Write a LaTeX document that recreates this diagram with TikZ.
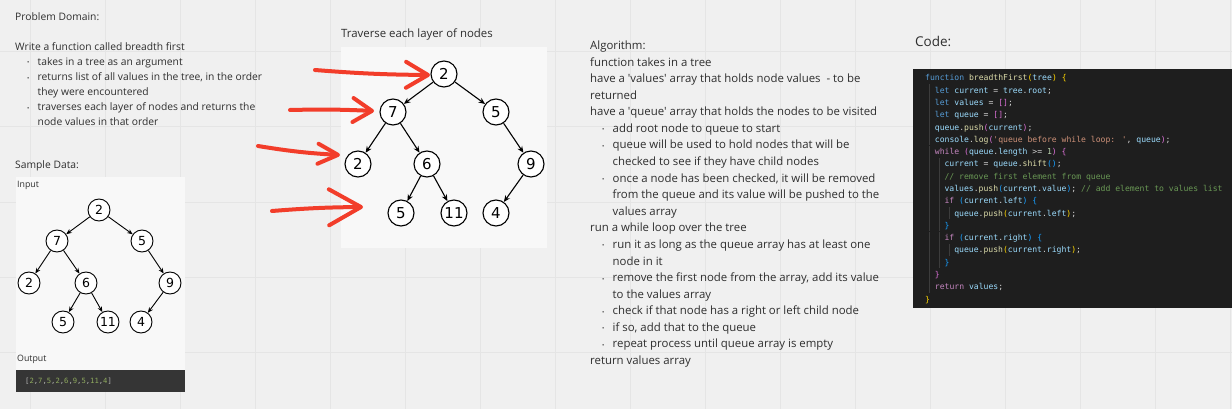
\documentclass[tikz,border=0pt]{standalone}
\usepackage{fontspec}
\setmainfont{Open Sans}
\newfontfamily\arbrefont{DejaVu Sans}
\newfontfamily\codefont{DejaVu Sans Mono}
\usepackage{tikz}
\usetikzlibrary{arrows.meta,positioning}
\definecolor{fondTableau}{HTML}{F0F0F0}
\definecolor{grilleTableau}{HTML}{E5E5E5}
\definecolor{texteGris}{HTML}{2E2E2E}
\definecolor{fondImage}{HTML}{F8F8F8}
\definecolor{rougeMain}{HTML}{F23D2A}
\definecolor{vsFond}{HTML}{1E1E1E}
\definecolor{vsGuide}{HTML}{3C3C3C}
\definecolor{vsTexte}{HTML}{D4D4D4}
\definecolor{vsBleu}{HTML}{569CD6}
\definecolor{vsJaune}{HTML}{DCDCAA}
\definecolor{vsVar}{HTML}{9CDCFE}
\definecolor{vsOr}{HTML}{FFD700}
\definecolor{vsMauve}{HTML}{DA70D6}
\definecolor{vsAzur}{HTML}{179FFF}
\definecolor{vsRose}{HTML}{C586C0}
\definecolor{vsChaine}{HTML}{CE9178}
\definecolor{vsNombre}{HTML}{B5CEA8}
\definecolor{vsCom}{HTML}{6A9955}
\definecolor{sortieNb}{HTML}{8FAA5E}

\newcommand\cmot[1]{\textcolor{vsBleu}{#1}}
\newcommand\cfon[1]{\textcolor{vsJaune}{#1}}
\newcommand\cvar[1]{\textcolor{vsVar}{#1}}
\newcommand\cor[1]{\textcolor{vsOr}{#1}}
\newcommand\cmau[1]{\textcolor{vsMauve}{#1}}
\newcommand\caz[1]{\textcolor{vsAzur}{#1}}
\newcommand\cctl[1]{\textcolor{vsRose}{#1}}
\newcommand\cstr[1]{\textcolor{vsChaine}{#1}}
\newcommand\cnum[1]{\textcolor{vsNombre}{#1}}
\newcommand\ccom[1]{\textcolor{vsCom}{#1}}
\newcommand\nb[1]{\textcolor{sortieNb}{#1}}
\newcommand\puce{\hspace*{12pt}\makebox[10.5pt][l]{\raisebox{.6pt}{\fontsize{6}{6}\selectfont •}}}
\newcommand\suite{\hspace*{22.5pt}}
\newcommand\qt{\textquotesingle}

\tikzset{
  texte/.style={anchor=base west, align=left, inner sep=0pt, text=texteGris},
  noeudG/.style={circle, draw, line width=0.9pt, fill=white, minimum size=22pt,
                 inner sep=0pt, font=\arbrefont\fontsize{12.5}{12.5}\selectfont},
  noeudM/.style={noeudG, minimum size=26pt, line width=1.1pt,
                 font=\arbrefont\fontsize{15}{15}\selectfont},
  lienG/.style={-{Stealth[length=5.5pt,width=4.5pt]}, line width=0.9pt},
  lienM/.style={-{Stealth[length=6.5pt,width=5.5pt]}, line width=1.1pt},
  rouge/.style={draw=rougeMain, line width=4pt, line cap=round, line join=round},
}

\begin{document}
\begin{tikzpicture}[x=1pt, y=-1pt]

% Fond et grille
\useasboundingbox (0,0) rectangle (1232,409);
\fill[fondTableau] (0,0) rectangle (1232,409);
\foreach \gx in {30,105,...,1230}
  \draw[grilleTableau, line width=1pt] (\gx,0) -- (\gx,409);
\foreach \gy in {52,127,...,409}
  \draw[grilleTableau, line width=1pt] (0,\gy) -- (1232,\gy);

% Problem Domain (ancre = derniere ligne)
\node[texte, font=\fontsize{10.3}{15.1}\selectfont] (probleme) at (15,126) {Problem Domain:\\[15.1pt]
Write a function called breadth first\\
\puce takes in a tree as an argument\\
\puce returns list of all values in the tree, in the order\\
\suite they were encountered\\
\puce traverses each layer of nodes and returns the\\
\suite node values in that order};

% Sample Data
\node[texte, font=\fontsize{10.3}{15.1}\selectfont] (exemple) at (15,168) {Sample Data:};
\fill[fondImage] (16,177) rectangle (185,392);
\node[texte, font=\fontsize{8.8}{10}\selectfont] (entree) at (17,187) {Input};
\node[texte, font=\fontsize{8.8}{10}\selectfont] (sortie) at (17,361) {Output};
\fill[vsFond!90!white] (16,370) rectangle (185,392);
\node[texte, text=vsTexte!85!black, font=\codefont\fontsize{7.2}{8}\selectfont] (resultat) at (25,383.5)
  {[\nb{2},\nb{7},\nb{5},\nb{2},\nb{6},\nb{9},\nb{5},\nb{11},\nb{4}]};

\node[noeudG] (a1) at (99,210) {2};
\node[noeudG] (a2) at (57,241) {7};
\node[noeudG] (a3) at (142,241) {5};
\node[noeudG] (a4) at (29,283) {2};
\node[noeudG] (a5) at (86,283) {6};
\node[noeudG] (a6) at (170,283) {9};
\node[noeudG] (a7) at (63,322) {5};
\node[noeudG] (a8) at (108,322) {11};
\node[noeudG] (a9) at (141,322) {4};
\draw[lienG] (a1) -- (a2);
\draw[lienG] (a1) -- (a3);
\draw[lienG] (a2) -- (a4);
\draw[lienG] (a2) -- (a5);
\draw[lienG] (a3) -- (a6);
\draw[lienG] (a5) -- (a7);
\draw[lienG] (a5) -- (a8);
\draw[lienG] (a6) -- (a9);

% Traverse each layer
\node[texte, font=\fontsize{11.4}{14}\selectfont] (parcours) at (341,37.5) {Traverse each layer of nodes};
\fill[fondImage] (341,47) rectangle (547,248);

\node[noeudM] (b1) at (444,74) {2};
\node[noeudM] (b2) at (393,112) {7};
\node[noeudM] (b3) at (496,112) {5};
\node[noeudM] (b4) at (358,164) {2};
\node[noeudM] (b5) at (427,164) {6};
\node[noeudM] (b6) at (531,164) {9};
\node[noeudM] (b7) at (401,213) {5};
\node[noeudM] (b8) at (454,213) {11};
\node[noeudM] (b9) at (496,213) {4};
\draw[lienM] (b1) -- (b2);
\draw[lienM] (b1) -- (b3);
\draw[lienM] (b2) -- (b4);
\draw[lienM] (b2) -- (b5);
\draw[lienM] (b3) -- (b6);
\draw[lienM] (b5) -- (b7);
\draw[lienM] (b5) -- (b8);
\draw[lienM] (b6) -- (b9);

% Fleches rouges
\coordinate (f1d) at (315,70);  \coordinate (f1f) at (430,75);
\coordinate (f2d) at (290,110); \coordinate (f2f) at (374,111);
\coordinate (f3d) at (258,146); \coordinate (f3f) at (340,155);
\coordinate (f4d) at (272,211); \coordinate (f4f) at (363,207);
\draw[rouge, -{Straight Barb[length=22pt,width=26pt,round]}] (f1d) to[bend right=2] (f1f);
\draw[rouge, -{Straight Barb[length=19pt,width=24pt,round]}] (f2d) to[bend left=2] (f2f);
\draw[rouge, -{Straight Barb[length=20pt,width=20pt,round]}] (f3d) to[bend right=3] (f3f);
\draw[rouge, -{Straight Barb[length=32pt,width=36pt,round]}] (f4d) to[bend left=2] (f4f);

% Algorithm (ancre = derniere ligne)
\node[texte, font=\fontsize{11.4}{16.58}\selectfont] (algo) at (590,364.5) {Algorithm:\\
function takes in a tree\\
have a \qt values\qt\ array that holds node values\ \ - to be\\
returned\\
have a \qt queue\qt\ array that holds the nodes to be visited\\
\puce add root node to queue to start\\
\puce queue will be used to hold nodes that will be\\
\suite checked to see if they have child nodes\\
\puce once a node has been checked, it will be removed\\
\suite from the queue and its value will be pushed to the\\
\suite values array\\
run a while loop over the tree\\
\puce run it as long as the queue array has at least one\\
\suite node in it\\
\puce remove the first node from the array, add its value\\
\suite to the values array\\
\puce check if that node has a right or left child node\\
\puce if so, add that to the queue\\
\puce repeat process until queue array is empty\\
return values array};

% Code
\node[texte, font=\fontsize{13.5}{16}\selectfont] (titreCode) at (915,47) {Code:};
\fill[vsFond] (913,69) rectangle (1232,308);
\foreach \k in {2,...,18}
  \draw[vsGuide, line width=0.8pt] (929,78+12.28*\k-12.28-6.1) -- (929,78+12.28*\k-12.28+6.1);
\foreach \k in {8,...,16}
  \draw[vsGuide, line width=0.8pt] (939,78+12.28*\k-12.28-6.1) -- (939,78+12.28*\k-12.28+6.1);
\foreach \k in {12,15}
  \draw[vsGuide, line width=0.8pt] (949,78+12.28*\k-12.28-6.1) -- (949,78+12.28*\k-12.28+6.1);

\node[texte, text=vsTexte, font=\codefont\fontsize{8.1}{12.28}\selectfont] (code) at (925,302) {%
\cmot{function} \cfon{breadthFirst}\cor{(}\cvar{tree}\cor{)} \cor{\{}\\
\hspace*{9.7pt}\cmot{let} \cvar{current} = \cvar{tree}.\cvar{root};\\
\hspace*{9.7pt}\cmot{let} \cvar{values} = \cmau{[]};\\
\hspace*{9.7pt}\cmot{let} \cvar{queue} = \cmau{[]};\\
\hspace*{9.7pt}\cvar{queue}.\cfon{push}\cmau{(}\cvar{current}\cmau{)};\\
\hspace*{9.7pt}\cvar{console}.\cfon{log}\cmau{(}\cstr{\qt queue before while loop: \qt}, \cvar{queue}\cmau{)};\\
\hspace*{9.7pt}\cctl{while} \cmau{(}\cvar{queue}.\cvar{length} >= \cnum{1}\cmau{)} \cmau{\{}\\
\hspace*{19.4pt}\cvar{current} = \cvar{queue}.\cfon{shift}\caz{()};\\
\hspace*{19.4pt}\ccom{// remove first element from queue}\\
\hspace*{19.4pt}\cvar{values}.\cfon{push}\caz{(}\cvar{current}.\cvar{value}\caz{)}; \ccom{// add element to values list}\\
\hspace*{19.4pt}\cctl{if} \caz{(}\cvar{current}.\cvar{left}\caz{)} \caz{\{}\\
\hspace*{29.1pt}\cvar{queue}.\cfon{push}\cor{(}\cvar{current}.\cvar{left}\cor{)};\\
\hspace*{19.4pt}\caz{\}}\\
\hspace*{19.4pt}\cctl{if} \caz{(}\cvar{current}.\cvar{right}\caz{)} \caz{\{}\\
\hspace*{29.1pt}\cvar{queue}.\cfon{push}\cor{(}\cvar{current}.\cvar{right}\cor{)};\\
\hspace*{19.4pt}\caz{\}}\\
\hspace*{9.7pt}\cmau{\}}\\
\hspace*{9.7pt}\cctl{return} \cvar{values};\\
\cor{\}}};

\end{tikzpicture}
\end{document}
